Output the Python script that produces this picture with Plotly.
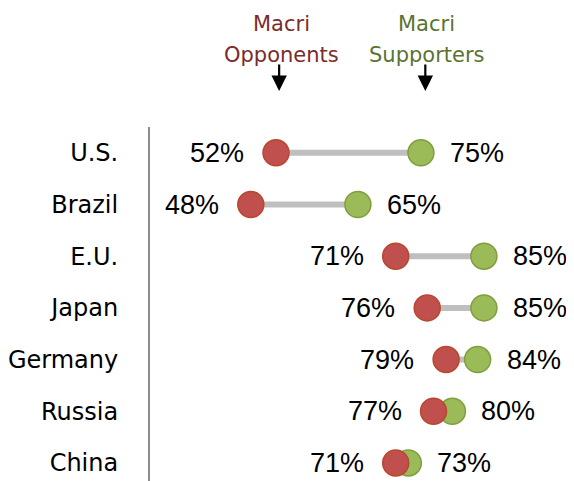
# Dumbbell chart: views of opponents vs supporters of Macri

import plotly.graph_objs as go

countries = ['U.S.', 'Brazil', 'E.U.', 'Japan', 'Germany', 'Russia', 'China']
opponents = [52, 48, 71, 76, 79, 77, 71]
supporters = [75, 65, 85, 85, 84, 80, 73]

rows = list(range(len(countries)))

# connector lines
line_x, line_y = [], []
for r, a, b in zip(rows, opponents, supporters):
    line_x += [a, b, None]
    line_y += [r, r, None]

data = [
    go.Scatter(x=line_x, y=line_y, mode='lines',
               line=dict(color='#BFBFBF', width=6), hoverinfo='skip'),
    go.Scatter(x=supporters, y=rows, mode='markers', name='Macri Supporters',
               marker=dict(size=26, color='#9BBB59',
                           line=dict(color='#7F9F3E', width=1.5))),
    go.Scatter(x=opponents, y=rows, mode='markers', name='Macri Opponents',
               marker=dict(size=26, color='#C0504D',
                           line=dict(color='#B9472E', width=1.5))),
]

label_font = dict(family='Liberation Sans, Arial', size=27, color='black')
annotations = []
for r, a, b in zip(rows, opponents, supporters):
    annotations.append(dict(x=a, y=r, text='%d%%' % a, showarrow=False,
                            xanchor='right', yanchor='middle', xshift=-30,
                            font=label_font))
    annotations.append(dict(x=b, y=r, text='%d%%' % b, showarrow=False,
                            xanchor='left', yanchor='middle', xshift=27,
                            font=label_font))

# column headers with arrows (page is offset 8px by the body margin)
head_font = dict(family='DejaVu Sans', size=21)
headers = [('Macri', 'Opponents', '#7B2C2A', 52.9, 52.5),
           ('Macri', 'Supporters', '#5A7430', 75.9, 75.7)]
for top, bottom, col, xc, xa in headers:
    annotations.append(dict(x=xc, y=(481 - 24) / 354, yref='paper', text=top,
                            showarrow=False, yanchor='middle',
                            font=dict(head_font, color=col)))
    annotations.append(dict(x=xc, y=(481 - 55) / 354, yref='paper', text=bottom,
                            showarrow=False, yanchor='middle',
                            font=dict(head_font, color=col)))
    annotations.append(dict(x=xa, y=(481 - 91) / 354, yref='paper', text='',
                            showarrow=True, arrowhead=2, arrowsize=1.4,
                            arrowwidth=2.2, arrowcolor='black', ax=0, ay=-28))

layout = go.Layout(
    width=566, height=473,
    margin=dict(l=142, r=0, t=119, b=0),
    showlegend=False,
    plot_bgcolor='white', paper_bgcolor='white',
    xaxis=dict(range=[32, 99.3], visible=False),
    yaxis=dict(range=[6.35, -0.5], tickvals=rows, ticktext=countries,
               showgrid=False, zeroline=False, showline=True,
               linecolor='#8C8C8C', linewidth=2, ticks='',
               ticklabelstandoff=25,
               tickfont=dict(family='DejaVu Sans', size=24, color='black')),
    annotations=annotations,
    hovermode='closest'
)
fig = go.Figure(data=data, layout=layout)
fig.write_html('out.html')
